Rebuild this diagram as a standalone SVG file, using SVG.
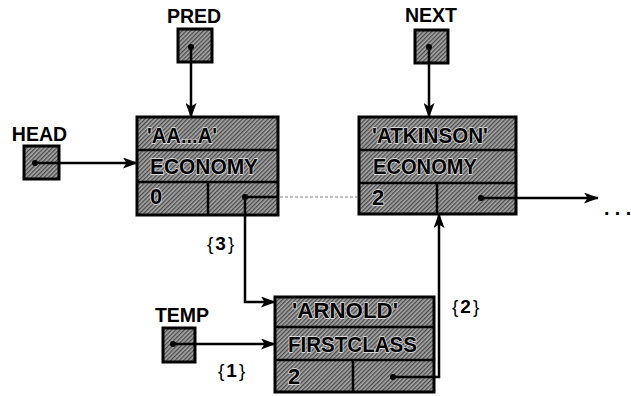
<svg xmlns="http://www.w3.org/2000/svg" width="631" height="396" viewBox="0 0 631 396">
<defs>
<pattern id="tex" width="3" height="3" patternUnits="userSpaceOnUse" patternTransform="rotate(45)">
<rect width="3" height="3" fill="#a6a6a6"/>
<rect width="1.3" height="3" fill="#4a4a4a"/>
</pattern>
<marker id="ah" viewBox="0 0 15 11" refX="14" refY="5.5" markerWidth="15" markerHeight="11" markerUnits="userSpaceOnUse" orient="auto">
<path d="M0,0 L15,5.5 L0,11 L3.5,5.5 Z" fill="#000"/>
</marker>
<style>
.cell{fill:url(#tex);stroke:#000;stroke-width:3}
.sep{stroke:#000;stroke-width:2.5;fill:none}
.box{fill:url(#tex);stroke:#000;stroke-width:3}
.ct{font-family:"Liberation Sans",Arial,sans-serif;font-weight:bold;font-size:22px;fill:#000;stroke:#e8e8e8;stroke-width:1.4;paint-order:stroke;stroke-linejoin:round}
.lbl{font-family:"Liberation Sans",Arial,sans-serif;font-weight:bold;font-size:19.5px;fill:#000}
.num{font-family:"Liberation Sans",Arial,sans-serif;font-weight:bold;font-size:19px;fill:#000;letter-spacing:2px}
.br{font-weight:normal}
.ln{stroke:#000;stroke-width:2.5;fill:none}
.arr{stroke:#000;stroke-width:2.5;fill:none;marker-end:url(#ah)}
.ghost{stroke:#aaa;stroke-width:1.5;stroke-dasharray:3 2;fill:none}
.dot{fill:#000}
</style>
</defs>
<rect width="631" height="396" fill="#fff"/>

<g id="node-aaa">
<rect class="cell" x="137" y="117" width="141" height="98"/>
<path class="sep" d="M137,150 H278 M137,182 H278 M208,182 V215"/>
<text class="ct" x="147" y="143" textLength="70" lengthAdjust="spacingAndGlyphs">'AA...A'</text>
<text class="ct" x="150" y="174" textLength="108" lengthAdjust="spacingAndGlyphs">ECONOMY</text>
<text class="ct" x="150" y="204">0</text>
</g>

<g id="node-atkinson">
<rect class="cell" x="359" y="117" width="157" height="97"/>
<path class="sep" d="M359,150 H516 M359,183 H516 M437,183 V214"/>
<text class="ct" x="372" y="143" textLength="116" lengthAdjust="spacingAndGlyphs">'ATKINSON'</text>
<text class="ct" x="373" y="174" textLength="104" lengthAdjust="spacingAndGlyphs">ECONOMY</text>
<text class="ct" x="372" y="205">2</text>
</g>

<g id="node-arnold">
<rect class="cell" x="275" y="297" width="159" height="95"/>
<path class="sep" d="M275,327 H434 M275,360 H434 M353,360 V392"/>
<text class="ct" x="292" y="318" textLength="106" lengthAdjust="spacingAndGlyphs">'ARNOLD'</text>
<text class="ct" x="288" y="352" textLength="129" lengthAdjust="spacingAndGlyphs">FIRSTCLASS</text>
<text class="ct" x="288" y="384">2</text>
</g>

<g id="ptr-pred">
<text class="lbl" x="194" y="23" text-anchor="middle">PRED</text>
<rect class="box" x="178" y="29" width="34" height="33"/>
</g>
<g id="ptr-next">
<text class="lbl" x="431" y="22" text-anchor="middle">NEXT</text>
<rect class="box" x="415" y="30" width="33" height="33"/>
</g>
<g id="ptr-head">
<text class="lbl" x="39.5" y="141" text-anchor="middle">HEAD</text>
<rect class="box" x="24" y="146" width="35" height="33"/>
</g>
<g id="ptr-temp">
<text class="lbl" x="182" y="322" text-anchor="middle">TEMP</text>
<rect class="box" x="163" y="328" width="32" height="34"/>
</g>

<g id="connectors">
<path class="arr" d="M191,47 V117"/>
<circle class="dot" cx="191" cy="47" r="3"/>
<path class="arr" d="M429,47 V117"/>
<circle class="dot" cx="429" cy="47" r="3"/>
<path class="arr" d="M35,163 H137"/>
<circle class="dot" cx="35" cy="163" r="3"/>
<path class="arr" d="M173,344 H275"/>
<circle class="dot" cx="173" cy="344" r="3"/>
<path class="ln" d="M245,197 H278"/>
<path class="ghost" d="M280,197 H357"/>
<path class="arr" d="M245,197 V302 H275"/>
<circle class="dot" cx="245" cy="197" r="3"/>
<path class="arr" d="M393,377 H439 V214"/>
<circle class="dot" cx="393" cy="377" r="3"/>
<path class="arr" d="M481,198 H598"/>
<circle class="dot" cx="481" cy="198" r="3"/>
</g>

<g id="labels">
<text class="num" x="207" y="250"><tspan class="br">{</tspan>3<tspan class="br">}</tspan></text>
<text class="num" x="218" y="377"><tspan class="br">{</tspan>1<tspan class="br">}</tspan></text>
<text class="num" x="452" y="313"><tspan class="br">{</tspan>2<tspan class="br">}</tspan></text>
<text class="lbl" x="604" y="215" font-size="20">. . .</text>
</g>
</svg>
